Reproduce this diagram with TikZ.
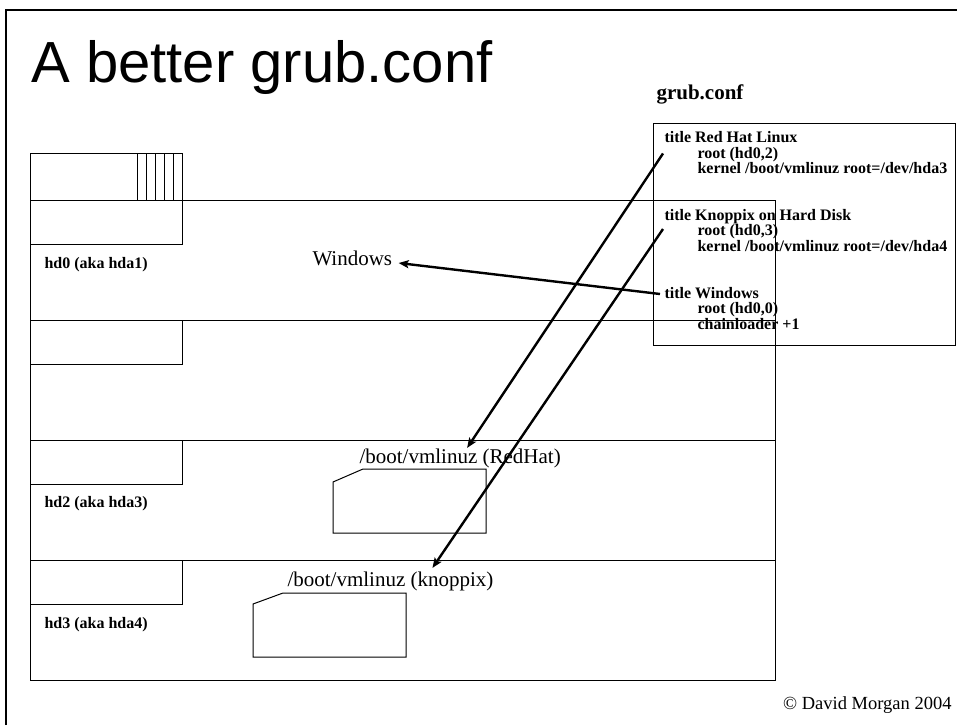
\documentclass[tikz,border=0pt]{standalone}
\usepackage{xcolor}
\usepackage{fontspec}
\setmainfont{Liberation Serif}
\newfontfamily\slidefont{Liberation Sans}
\usetikzlibrary{arrows.meta}

\begin{document}
\begin{tikzpicture}[x=1pt, y=-1pt, line width=1pt,
  disklabel/.style={anchor=base west, inner sep=0pt, font=\fontsize{16}{18}\selectfont\bfseries},
  filename/.style={anchor=base west, inner sep=0pt, font=\fontsize{21}{24}\selectfont},
  bootarrow/.style={line width=2.4pt, -{Stealth[length=10pt, width=8pt, inset=2pt]}}]
  \useasboundingbox (0,0) rectangle (957,725);
  \draw[line width=2.5pt] (6,725) -- (6,10) -- (957,10);
  \node[anchor=base west, inner sep=0pt, font=\slidefont\fontsize{58}{64}\selectfont] (slidetitle) at (31,82) {A better grub.conf};
  \node[anchor=base west, inner sep=0pt, font=\fontsize{21}{24}\selectfont\bfseries] (grubhead) at (656,99) {grub.conf};
  \draw (30,200) rectangle (775,680);
  \draw (30,153) rectangle (182,200);
  \foreach \x in {137,146,155,164,173}
    \draw (\x,153) -- (\x,200);
  \foreach \y in {200,320,440,560} {
    \draw (30,\y) -- (775,\y);
    \draw (30,\y) rectangle (182,\y+44);
  }
  \node[disklabel] (hdzero) at (44,268) {hd0 (aka hda1)};
  \node[disklabel] (hdtwo) at (44,507) {hd2 (aka hda3)};
  \node[disklabel] (hdthree) at (44,628) {hd3 (aka hda4)};
  \draw (653,123) rectangle (955,345);
  \node[disklabel] (redhat) at (664,142.5) {title Red Hat Linux};
  \node[disklabel] (redhatroot) at (697,158) {root (hd0,2)};
  \node[disklabel] (redhatkernel) at (697,173.5) {kernel /boot/vmlinuz root=/dev/hda3};
  \node[disklabel] (knoppix) at (664,220) {title Knoppix on Hard Disk};
  \node[disklabel] (knoppixroot) at (697,235.5) {root (hd0,3)};
  \node[disklabel] (knoppixkernel) at (697,251) {kernel /boot/vmlinuz root=/dev/hda4};
  \node[disklabel] (windows) at (664,298) {title Windows};
  \node[disklabel] (windowsroot) at (697,313.5) {root (hd0,0)};
  \node[disklabel] (windowsloader) at (697,329) {chainloader +1};
  \draw (333,482) -- (363,469) -- (486,469) -- (486,533) -- (333,533) -- cycle;
  \draw (253,604) -- (283,593) -- (406,593) -- (406,657) -- (253,657) -- cycle;
  \node[filename] (winpart) at (312,265) {Windows};
  \node[filename] (rhkernel) at (359,463) {/boot/vmlinuz (RedHat)};
  \node[filename] (knkernel) at (287,586) {/boot/vmlinuz (knoppix)};
  \node[anchor=base east, inner sep=0pt, font=\fontsize{18.5}{22}\selectfont] (credit) at (952,709) {\textcopyright{} David Morgan 2004};
  \draw[bootarrow] ([xshift=-1pt,yshift=-11pt]redhat.base west) -- ([xshift=7pt]rhkernel.north);
  \draw[bootarrow] ([xshift=-1pt,yshift=-9pt]knoppix.base west) -- ([xshift=42pt,yshift=3pt]knkernel.north);
  \draw[bootarrow] ([xshift=-4pt,yshift=4pt]windows.base west) -- ([xshift=6pt,yshift=2pt]winpart.base east);
\end{tikzpicture}
\end{document}
